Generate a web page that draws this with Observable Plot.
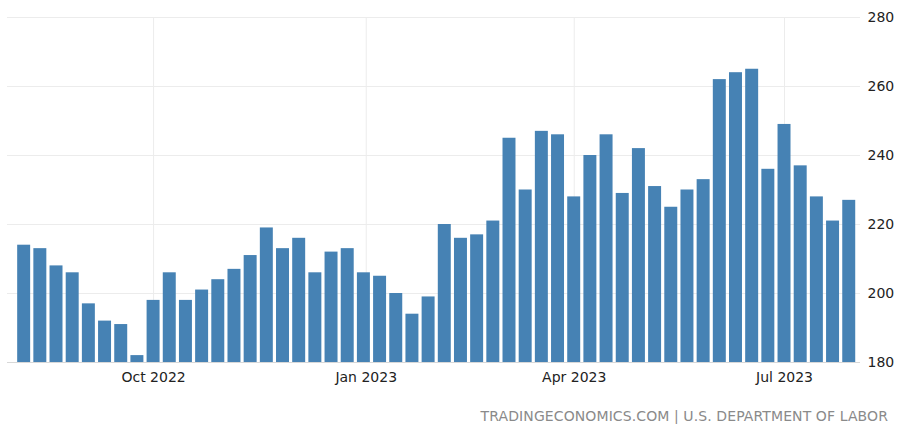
<!DOCTYPE html>
<html><head><meta charset="utf-8">
<script src="https://cdn.jsdelivr.net/npm/d3@7"></script>
<script src="https://cdn.jsdelivr.net/npm/@observablehq/plot@0.6"></script>
<style>
body{margin:0;background:#fff;font-family:"DejaVu Sans",sans-serif;}
#caption{width:888px;text-align:right;color:#8a8a8a;font-size:14px;letter-spacing:0.1px;margin-top:13px;}
</style></head><body><div id="chart"></div><div id="caption">TRADINGECONOMICS.COM | U.S. DEPARTMENT OF LABOR</div>
<script>
const weeks = [
 "2022-08-06","2022-08-13","2022-08-20","2022-08-27","2022-09-03","2022-09-10","2022-09-17","2022-09-24",
 "2022-10-01","2022-10-08","2022-10-15","2022-10-22","2022-10-29","2022-11-05","2022-11-12","2022-11-19",
 "2022-11-26","2022-12-03","2022-12-10","2022-12-17","2022-12-24","2022-12-31","2023-01-07","2023-01-14",
 "2023-01-21","2023-01-28","2023-02-04","2023-02-11","2023-02-18","2023-02-25","2023-03-04","2023-03-11",
 "2023-03-18","2023-03-25","2023-04-01","2023-04-08","2023-04-15","2023-04-22","2023-04-29","2023-05-06",
 "2023-05-13","2023-05-20","2023-05-27","2023-06-03","2023-06-10","2023-06-17","2023-06-24","2023-07-01",
 "2023-07-08","2023-07-15","2023-07-22","2023-07-29"
];
const claims = [
 214,213,208,206,197,192,191,182,198,206,
 198,201,204,207,211,219,213,216,206,212,
 213,206,205,200,194,199,220,216,217,221,
 245,230,247,246,228,240,246,229,242,231,
 225,230,233,262,264,265,236,249,237,228,
 221,227
];
const yTicks = [180,200,220,240,260,280];
const xTickDates = ["2022-10-01","2023-01-01","2023-04-01","2023-07-01"];

const xTicks = xTickDates.map(s => new Date(s + "T00:00:00Z"));
const data = weeks.map((w, i) => ({date: new Date(w + "T00:00:00Z"), value: claims[i]}));
const half = 3.5 * 864e5;

const chart = Plot.plot({
  width: 900, height: 395,
  marginLeft: 7, marginRight: 40, marginTop: 17, marginBottom: 33,
  style: {fontFamily: "DejaVu Sans, sans-serif", fontSize: "14px", color: "#222", background: "#fff"},
  x: {type: "utc", domain: [new Date("2022-07-29T19:00:00Z"), new Date("2023-08-02T21:00:00Z")]},
  y: {domain: [180, 280]},
  marks: [
    Plot.gridX(xTicks, {stroke: "#ececec", strokeOpacity: 1}),
    Plot.gridY(yTicks, {stroke: "#ececec", strokeOpacity: 1}),
    Plot.rectY(data, {
      x1: d => new Date(+d.date - half),
      x2: d => new Date(+d.date + half),
      y1: 180, y2: "value",
      fill: "#4682b4", insetLeft: 1.6, insetRight: 1.6
    }),
    Plot.ruleY([180], {stroke: "#d8d8d8"}),
    Plot.axisY(yTicks, {anchor: "right", tickSize: 0, tickPadding: 7, fontSize: 14, fill: "#222", label: null}),
    Plot.axisX(xTicks, {anchor: "bottom", tickSize: 0, tickPadding: 10, fontSize: 14, fill: "#222", label: null,
      tickFormat: d3.utcFormat("%b %Y")})
  ]
});
document.getElementById("chart").appendChild(chart);
</script>
</body></html>
